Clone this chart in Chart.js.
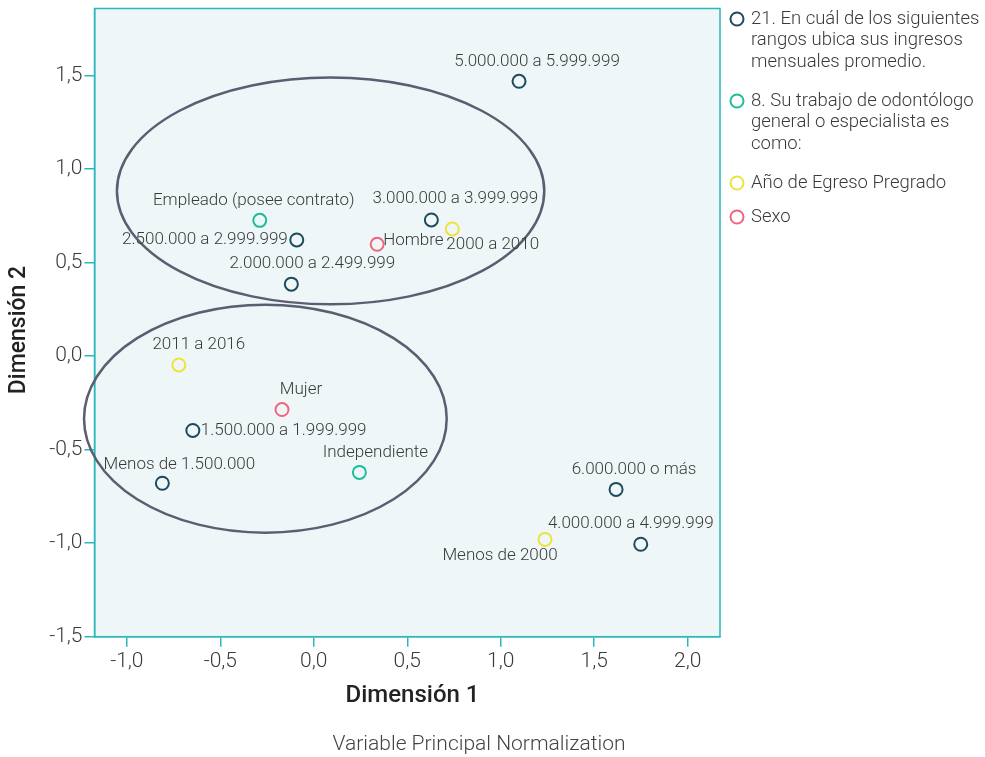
<!DOCTYPE html>
<html>
<head>
<meta charset="utf-8">
<script src="https://cdn.jsdelivr.net/npm/chart.js@4/dist/chart.umd.min.js"></script>
<style>
  html, body { margin: 0; padding: 0; background: #ffffff; }
  #wrap { width: 985px; height: 757px; position: relative; }
</style>
</head>
<body>
<div id="wrap"><canvas id="c" width="985" height="757"></canvas></div>
<script>
// ---------- DATA ----------
const seriesNames = [
  ["21. En cuál de los siguientes", "rangos ubica sus ingresos", "mensuales promedio."],
  ["8. Su trabajo de odontólogo", "general o especialista es", "como:"],
  ["Año de Egreso Pregrado"],
  ["Sexo"]
];
const incomeLabels = ["Menos de 1.500.000", "1.500.000 a 1.999.999", "2.000.000 a 2.499.999", "2.500.000 a 2.999.999",
                      "3.000.000 a 3.999.999", "4.000.000 a 4.999.999", "5.000.000 a 5.999.999", "6.000.000 o más"];
const incomeX = [-0.81, -0.647, -0.12, -0.091, 0.629, 1.749, 1.098, 1.617];
const incomeY = [-0.68, -0.398, 0.384, 0.62, 0.727, -1.006, 1.468, -0.713];

const workLabels = ["Empleado (posee contrato)", "Independiente"];
const workX = [-0.289, 0.244];
const workY = [0.725, -0.622];

const yearLabels = ["Menos de 2000", "2000 a 2010", "2011 a 2016"];
const yearX = [1.237, 0.741, -0.722];
const yearY = [-0.98, 0.679, -0.048];

const sexLabels = ["Hombre", "Mujer"];
const sexX = [0.339, -0.17];
const sexY = [0.597, -0.286];

const xTicks = [-1.0, -0.5, 0.0, 0.5, 1.0, 1.5, 2.0];
const yTicks = [-1.5, -1.0, -0.5, 0.0, 0.5, 1.0, 1.5];

// group ellipses (center and semi-axes in data units)
const ellipseCx = [0.09, -0.259];
const ellipseCy = [0.882, -0.335];
const ellipseRx = [1.143, 0.97];
const ellipseRy = [0.606, 0.609];

// ---------- STYLE ----------
const colors = ["#1e4a5e", "#1dbd9c", "#ece43e", "#f0667f"];
// label placement per point: [align, dx px, dy px]
const incomePlace = [["center",17,-19],["left",8,0],["center",21,-20],["right",-9,0],["center",24,-21],["center",-10,-21],["center",18,-20],["center",18,-20]];
const workPlace = [["center",-6,-20],["center",16,-20]];
const yearPlace = [["center",-45,16],["left",-6,16],["center",20,-20]];
const sexPlace = [["left",6,-4],["center",19,-20]];

const teal = "#2bb8bd";
const FONT = "Roboto, 'Noto Sans', sans-serif";

function pts(xs, ys) { return xs.map((x, i) => ({ x: x, y: ys[i] })); }

const datasets = [
  { label: seriesNames[0].join(" "), data: pts(incomeX, incomeY), names: incomeLabels, place: incomePlace },
  { label: seriesNames[1].join(" "), data: pts(workX, workY), names: workLabels, place: workPlace },
  { label: seriesNames[2].join(" "), data: pts(yearX, yearY), names: yearLabels, place: yearPlace },
  { label: seriesNames[3].join(" "), data: pts(sexX, sexY), names: sexLabels, place: sexPlace }
].map((d, i) => Object.assign(d, {
  borderColor: colors[i], backgroundColor: "rgba(0,0,0,0)", pointRadius: 6.5, pointBorderWidth: 2,
  pointHoverRadius: 6.5, showLine: false
}));

const decoPlugin = {
  id: "deco",
  beforeDraw(chart) {
    const { ctx, chartArea: a } = chart;
    ctx.save();
    ctx.fillStyle = "#eef6f7";
    ctx.fillRect(a.left, a.top, a.right - a.left, a.bottom - a.top);
    ctx.restore();
  },
  afterDraw(chart) {
    const { ctx, chartArea: a, scales } = chart;
    const xs = scales.x, ys = scales.y;
    ctx.save();
    // frame
    ctx.strokeStyle = teal; ctx.lineWidth = 1.5;
    ctx.strokeRect(a.left, a.top, a.right - a.left, a.bottom - a.top);
    // ellipses
    ctx.strokeStyle = "#5c5d70"; ctx.lineWidth = 2.5;
    for (let i = 0; i < ellipseCx.length; i++) {
      const cx = xs.getPixelForValue(ellipseCx[i]);
      const cy = ys.getPixelForValue(ellipseCy[i]);
      const rx = Math.abs(xs.getPixelForValue(ellipseCx[i] + ellipseRx[i]) - cx);
      const ry = Math.abs(ys.getPixelForValue(ellipseCy[i] + ellipseRy[i]) - cy);
      ctx.beginPath(); ctx.ellipse(cx, cy, rx, ry, 0, 0, Math.PI * 2); ctx.stroke();
    }
    // point labels
    ctx.font = "300 17px " + FONT; ctx.fillStyle = "#3a3a3a"; ctx.textBaseline = "middle";
    chart.data.datasets.forEach((ds) => {
      ds.data.forEach((p, j) => {
        const px = xs.getPixelForValue(p.x), py = ys.getPixelForValue(p.y);
        const pl = ds.place[j];
        ctx.textAlign = pl[0];
        ctx.fillText(ds.names[j], px + pl[1], py + pl[2]);
      });
    });
    // axis titles
    ctx.fillStyle = "#222"; ctx.textAlign = "center";
    ctx.font = "500 24px " + FONT;
    ctx.fillText("Dimensión 1", 412.5, 696);
    ctx.save(); ctx.translate(19, 330); ctx.rotate(-Math.PI / 2);
    ctx.font = "500 23px " + FONT;
    ctx.fillText("Dimensión 2", 0, 0); ctx.restore();
    ctx.fillStyle = "#444"; ctx.font = "300 21px " + FONT;
    ctx.fillText("Variable Principal Normalization", 479, 745);
    // legend
    let y = 19;
    seriesNames.forEach((lines, i) => {
      ctx.strokeStyle = colors[i]; ctx.lineWidth = 2;
      ctx.beginPath(); ctx.arc(737, y, 6.5, 0, Math.PI * 2); ctx.stroke();
      ctx.fillStyle = "#3a3a3a"; ctx.font = "300 18.5px " + FONT; ctx.textAlign = "left";
      lines.forEach((t, k) => { ctx.fillText(t, 751, y + k * 21.5); });
      y += lines.length * 21.5 + (lines.length > 1 ? 17.5 : 12.5);
    });
    ctx.restore();
  }
};

const fmt = (v) => v.toFixed(1).replace(".", ",");

new Chart(document.getElementById("c"), {
  type: "scatter",
  data: { datasets: datasets },
  options: {
    responsive: false, animation: false, devicePixelRatio: 1,
    layout: { padding: { left: 0, top: 7.3, right: 265, bottom: 0 } },
    plugins: { legend: { display: false }, tooltip: { enabled: false } },
    scales: {
      x: {
        type: "linear", min: -1.173, max: 2.173,
        afterBuildTicks: (s) => { s.ticks = xTicks.map(v => ({ value: v })); },
        afterFit: (s) => { s.height = 120.3; s.paddingLeft = 0; s.paddingRight = 0; },
        border: { display: true, color: teal, width: 1.5 },
        grid: { drawOnChartArea: false, drawTicks: true, tickLength: 10, color: teal, lineWidth: 1.5 },
        ticks: { callback: fmt, color: "#3a3a3a", font: { family: FONT, size: 21, weight: 300 }, padding: 2, maxRotation: 0, autoSkip: false }
      },
      y: {
        type: "linear", min: -1.5, max: 1.857,
        afterBuildTicks: (s) => { s.ticks = yTicks.map(v => ({ value: v })); },
        afterFit: (s) => { s.width = 94.5; s.paddingTop = 0; s.paddingBottom = 0; },
        border: { display: true, color: teal, width: 1.5 },
        grid: { drawOnChartArea: false, drawTicks: true, tickLength: 10, color: teal, lineWidth: 1.5 },
        ticks: { callback: fmt, color: "#3a3a3a", font: { family: FONT, size: 21, weight: 300 }, padding: 2, autoSkip: false }
      }
    }
  },
  plugins: [decoPlugin]
});
</script>
</body>
</html>
